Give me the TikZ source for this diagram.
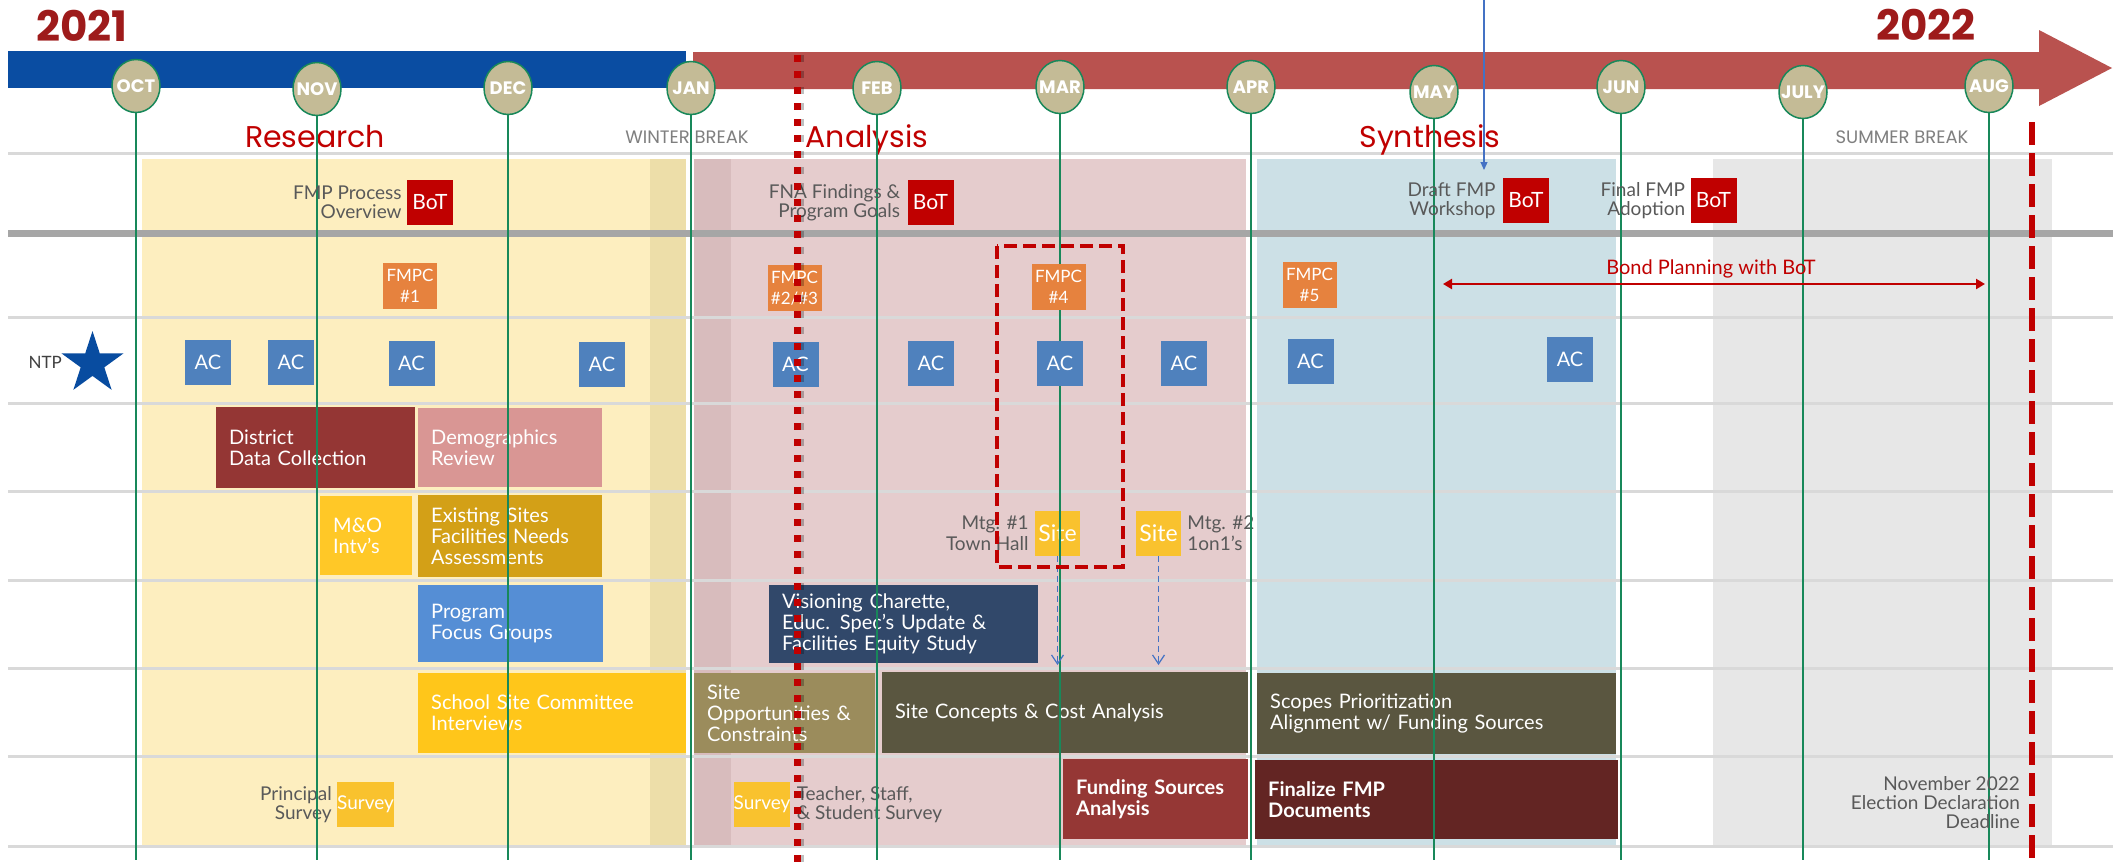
\documentclass[tikz,border=0pt]{standalone}
\usepackage{fontspec}
\setmainfont{Lato}
\newfontfamily\headfont{Poppins}
\usetikzlibrary{positioning,shapes.geometric,arrows.meta}

\definecolor{yearred}{HTML}{9E1B1B}
\definecolor{barblue}{HTML}{0A4DA2}
\definecolor{arrowred}{HTML}{B9524F}
\definecolor{monthtan}{HTML}{C4BB96}
\definecolor{monthgreen}{HTML}{18885A}
\definecolor{phasered}{HTML}{C00000}
\definecolor{breakgray}{HTML}{7F7F7F}
\definecolor{labelgray}{HTML}{595959}
\definecolor{ntpgray}{HTML}{404040}
\definecolor{rowgray}{HTML}{D9D9D9}
\definecolor{sepgray}{HTML}{A6A6A6}
\definecolor{resbg}{HTML}{FDEEBF}
\definecolor{resbgdark}{HTML}{EDDEA9}
\definecolor{anabg}{HTML}{E5CCCD}
\definecolor{anabgdark}{HTML}{D8BCBD}
\definecolor{synbg}{HTML}{CCE0E6}
\definecolor{sumbg}{HTML}{E7E7E7}
\definecolor{botred}{HTML}{C00000}
\definecolor{fmpcorange}{HTML}{E6823E}
\definecolor{acblue}{HTML}{4F81BD}
\definecolor{starblue}{HTML}{084CA0}
\definecolor{sitegold}{HTML}{F9C22E}
\definecolor{linkblue}{HTML}{4472C4}
\definecolor{ddcred}{HTML}{943634}
\definecolor{demopink}{HTML}{D99694}
\definecolor{moyellow}{HTML}{FFC827}
\definecolor{esgold}{HTML}{D3A017}
\definecolor{pfgblue}{HTML}{558ED5}
\definecolor{sscyellow}{HTML}{FFC61A}
\definecolor{visnavy}{HTML}{31486A}
\definecolor{soppkhaki}{HTML}{9B8C5C}
\definecolor{sconolive}{HTML}{5A5640}
\definecolor{fundred}{HTML}{953735}
\definecolor{finmaroon}{HTML}{632523}

\tikzset{
	year/.style={anchor=base, inner sep=0pt, text=yearred, font=\headfont\bfseries\fontsize{42}{42}\selectfont},
	month/.style={ellipse, draw=monthgreen, line width=1.5pt, fill=monthtan, minimum width=48pt, minimum height=53pt, inner sep=0pt},
	monthtext/.style={inner sep=0pt, text=white, font=\headfont\bfseries\fontsize{18}{18}\selectfont},
	monthline/.style={monthgreen, line width=1.3pt},
	phase/.style={anchor=base, inner sep=0pt, text=phasered, font=\headfont\fontsize{30}{30}\selectfont},
	breaklbl/.style={anchor=base, inner sep=0pt, text=breakgray, font=\headfont\fontsize{18}{18}\selectfont},
	rowline/.style={rowgray, line width=3pt},
	sepline/.style={sepgray, line width=7pt},
	tag/.style={minimum width=46pt, minimum height=45pt, inner sep=0pt, text=white, align=center},
	bot/.style={tag, fill=botred, font=\fontsize{21}{21}\selectfont},
	fmpc/.style={tag, fill=fmpcorange, minimum width=54pt, minimum height=46pt, font=\fontsize{17}{21}\selectfont},
	ac/.style={tag, fill=acblue, font=\fontsize{20}{20}\selectfont},
	site/.style={tag, fill=sitegold, minimum width=45pt, font=\fontsize{23}{23}\selectfont},
	survey/.style={tag, fill=sitegold, minimum width=55pt, font=\fontsize{19}{19}\selectfont},
	task/.style={anchor=north west, inner xsep=13pt, inner ysep=0pt, text=white, align=left, font=\fontsize{20}{21}\selectfont},
	note/.style={inner sep=0pt, text=labelgray, font=\fontsize{19}{19}\selectfont},
	linkdash/.style={linkblue, line width=1.2pt, dash pattern=on 6pt off 4pt, -{Straight Barb[length=9pt,width=12pt]}},
	linksolid/.style={linkblue, line width=1.2pt, -{Triangle[length=8pt,width=7pt]}},
	bond/.style={botred, line width=2.5pt, {Triangle[length=9pt,width=10pt]}-{Triangle[length=9pt,width=10pt]}},
	bondlbl/.style={anchor=base, inner sep=0pt, text=botred, font=\fontsize{20}{20}\selectfont},
	mtgframe/.style={botred, line width=4.5pt, dash pattern=on 13pt off 6pt},
	dlline/.style={botred, line width=6pt, dash pattern=on 23pt off 8pt},
	cutline/.style={botred, line width=7pt, dash pattern=on 7pt off 9pt}
}

\begin{document}
\begin{tikzpicture}[x=1pt,y=-1pt]
\useasboundingbox (0,0) rectangle (2113,865);
\fill[white] (0,0) rectangle (2113,865);

\node[year] (y2021) at (82,41) {2021};
\node[year] (y2022) at (1926,40) {2022};

\fill[barblue] (8,51) rectangle (686,88);
\fill[arrowred] (693,52) -- (2039,52) -- (2039,30) -- (2112,68) -- (2039,106) -- (2039,89) -- (693,89) -- cycle;

\fill[resbg] (142,159) rectangle (650,845);
\fill[resbgdark] (650,159) rectangle (686,845);
\fill[anabgdark] (694,159) rectangle (731,845);
\fill[anabg] (731,159) rectangle (1246,845);
\fill[synbg] (1257,159) rectangle (1616,845);
\fill[sumbg] (1713,159) rectangle (2052,845);

\foreach \y in {153,317,403,491,580,668,756,846}{
	\draw[rowline] (8,\y) -- (2113,\y);
}
\draw[sepline] (8,233.5) -- (2113,233.5);

\foreach \n/\lbl/\x/\y in {
	oct/OCT/136/86, nov/NOV/317/89, dec/DEC/508/88, jan/JAN/691/88,
	feb/FEB/877/88, mar/MAR/1060/87, apr/APR/1251/87, may/MAY/1434/92,
	jun/JUN/1621/87, jul/JULY/1803/92, aug/AUG/1989/86%
}{
	\node[month, label={[monthtext]center:\lbl}] (\n) at (\x,\y) {};
}

\node[phase] (research) at (315,147) {Research};
\node[phase] (analysis) at (867,147) {Analysis};
\node[phase] (synthesis) at (1430,147) {Synthesis};
\node[breaklbl] (winter) at (687,143) {WINTER BREAK};
\node[breaklbl] (summer) at (1902,143) {SUMMER BREAK};

\foreach \n/\x/\y/\w/\h/\col/\txt in {
	ddc/216/407/199/81/ddcred/{District\\Data Collection},
	demo/418/408/184/79/demopink/{Demographics\\Review},
	mo/320/496/92/79/moyellow/{M\&O\\Intv's},
	esfna/418/495/184/82/esgold/{Existing Sites\\Facilities Needs\\Assessments},
	pfg/418/585/185/77/pfgblue/{Program\\Focus Groups},
	sscc/418/673/268/80/sscyellow/{School Site Committee\\Interviews},
	vis/769/585/269/78/visnavy/{Visioning Charette,\\Educ. Spec's Update \&\\Facilities Equity Study},
	sopp/694/673/181/80/soppkhaki/{Site\\Opportunities \&\\Constraints},
	scon/882/672/366/81/sconolive/{Site Concepts \& Cost Analysis},
	scope/1257/673/359/81/sconolive/{Scopes Prioritization\\Alignment w/ Funding Sources},
	fund/1063/759/185/80/fundred/{\bfseries Funding Sources\\\bfseries Analysis},
	fin/1255/760/363/79/finmaroon/{\bfseries Finalize FMP\\\bfseries Documents}%
}{
	\pgfmathsetmacro{\tw}{\w-26}
	\node[task, fill=\col, text width=\tw pt, minimum height=\h pt] (\n) at (\x,\y) {\txt};
}

\node[site] (site1) at (1057.5,533) {Site};
\node[site] (site2) at (1158.5,533.5) {Site};
\node[note, align=right, left=6pt of site1, font=\fontsize{19}{21}\selectfont] (mtg1) {Mtg. \#1\\Town Hall};
\node[note, align=left, right=6pt of site2, font=\fontsize{19}{21}\selectfont] (mtg2) {Mtg. \#2\\1on1's};

\node[survey] (survey1) at (365.5,804.5) {Survey};
\node[survey] (survey2) at (762,804.5) {Survey};
\node[note, align=right, left=5pt of survey1] (princ) {Principal\\Survey};
\node[note, align=left, right=6pt of survey2] (tss) {Teacher, Staff,\\\& Student Survey};

\coordinate (floor) at (0,860);
\foreach \n in {oct,nov,dec,jan,feb,mar,apr,may,jun,jul,aug}{
	\draw[monthline] (\n.south) -- (\n.south |- floor);
}

\foreach \x/\y [count=\i] in {430/202.5, 930.5/202.5, 1526/200.5, 1713.5/200.5}{
	\node[bot] (bot\i) at (\x,\y) {BoT};
}
\node[note, align=right, left=5pt of bot1] (bot1lbl) {FMP Process\\Overview};
\node[note, align=right, left=7pt of bot2] (bot2lbl) {FNA Findings \&\\Program Goals};
\node[note, align=right, left=7pt of bot3] (bot3lbl) {Draft FMP\\Workshop};
\node[note, align=right, left=5pt of bot4] (bot4lbl) {Final FMP\\Adoption};

\node[fmpc] (fmpc1) at (410,286) {FMPC\\\#1};
\node[fmpc] (fmpc23) at (794.5,288) {FMPC\\\#2/\#3};
\node[fmpc] (fmpc4) at (1058.5,286.5) {FMPC\\\#4};
\node[fmpc] (fmpc5) at (1309.5,285) {FMPC\\\#5};

\foreach \x/\y [count=\i] in {
	208/362.5, 291/362.5, 411.5/363.5, 602/364.5, 795.5/364.5,
	931/363.5, 1060/363.5, 1184/363.5, 1310.5/361.5, 1570/359.5%
}{
	\node[ac] (ac\i) at (\x,\y) {AC};
}

\node[star, star points=5, star point ratio=2.618, fill=starblue, minimum size=65pt, inner sep=0pt] (ntp) at (92.5,363.5) {};
\node[note, anchor=east, text=ntpgray, font=\fontsize{17}{17}\selectfont] (ntplbl) at (62,362) {NTP};

\coordinate (arrowstop) at (0,665);
\draw[linkdash] (site1.south) -- (site1.south |- arrowstop);
\draw[linkdash] (site2.south) -- (site2.south |- arrowstop);

\coordinate (wsin) at (1484,0);
\coordinate (wsout) at (1484,170);
\draw[linksolid] (wsin) -- (wsout);

\coordinate (bondl) at (1443,284);
\coordinate (bondr) at (1985,284);
\draw[bond] (bondl) -- (bondr);
\node[bondlbl] (bondtxt) at (1711,274) {Bond Planning with BoT};

\node[note, align=right, anchor=east] (deadline) at (2020,803) {November 2022\\Election Declaration\\Deadline};

\draw[mtgframe] (997,246) rectangle (1123,567);

\coordinate (dltop) at (2032,122);
\coordinate (dlbot) at (2032,865);
\draw[dlline] (dltop) -- (dlbot);

\coordinate (cuttop) at (797,55);
\coordinate (cutbot) at (797,865);
\draw[cutline, black, opacity=.25] ([xshift=3pt]cuttop) -- ([xshift=3pt]cutbot);
\draw[cutline] (cuttop) -- (cutbot);
\end{tikzpicture}
\end{document}
